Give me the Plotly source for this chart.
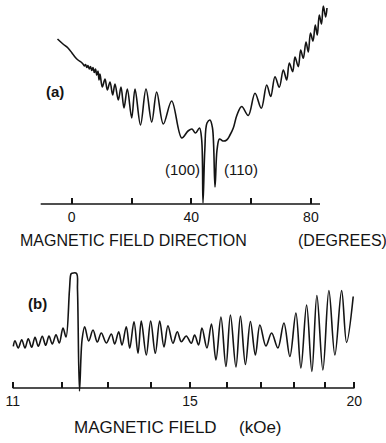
import plotly.graph_objects as go

# ---- Panel (a): signal vs magnetic field direction (degrees) ----
a_deg = [-4.75, -2.91, -1.24, 0.10, 1.10, 2.11, 3.11, 3.78, 4.21, 4.62, 5.05, 5.45, 5.89, 6.29,
         6.72, 7.12, 7.56, 7.96, 8.39, 8.80, 9.13, 9.46, 10.23, 11.14, 11.91, 12.81, 13.71, 14.48,
         15.59, 16.49, 17.49, 18.60, 20.07, 21.17, 23.01, 24.85, 26.76, 28.43, 30.64, 33.44, 36.79,
         38.90, 40.23, 41.40, 42.74, 43.48, 43.91, 44.52, 45.25, 46.25, 47.09, 47.93, 48.60, 49.43,
         50.60, 51.84, 52.94, 54.05, 55.28, 56.86, 59.06, 61.30, 63.41, 65.22, 66.56, 67.99, 69.43,
         70.77, 71.91, 72.78, 73.91, 74.68, 75.79, 76.59, 77.46, 78.36, 79.13, 79.87, 80.70, 81.47,
         82.14, 82.81, 83.54, 84.15, 84.95, 85.38]
a_sig = [165, 160, 156, 151, 147, 144, 142, 140, 138, 139.5, 136.5, 138.5, 135, 137.5,
         133.5, 136.5, 131.5, 135, 129, 133, 124, 130, 117, 125, 114, 122, 109, 120,
         104, 117, 96, 115, 86, 115, 79, 115, 82, 112, 80, 103, 66,
         73, 75, 71, 76, 64, 1, 54, 81, 84, 76, 17, 54, 65,
         63, 64, 69, 76, 89, 97.5, 88.5, 110.7, 95.7, 119, 107.5, 127.3, 116.7,
         134, 124, 141, 132.3, 147, 137.3, 154, 145.7, 162, 152, 171, 163, 179,
         169, 189, 180, 198, 187, 196]
a_tickvals = [0, 20, 40, 60, 80]
a_ticktext = ["0", "", "40", "", "80"]

# ---- Panel (b): signal vs magnetic field (kOe) ----
b_field = [11.012, 11.044, 11.108, 11.175, 11.239, 11.304, 11.372, 11.438, 11.504, 11.584,
           11.654, 11.721, 11.789, 11.866, 11.935, 12.012, 12.076, 12.149, 12.181, 12.203,
           12.299, 12.321, 12.364, 12.419, 12.477, 12.565, 12.660, 12.755, 12.845, 12.958,
           13.072, 13.150, 13.242, 13.319, 13.419, 13.500, 13.601, 13.697, 13.776, 13.897,
           14.004, 14.118, 14.227, 14.334, 14.434, 14.561, 14.672, 14.775, 14.904, 15.035,
           15.124, 15.230, 15.319, 15.454, 15.576, 15.699, 15.837, 15.976, 16.102, 16.258,
           16.386, 16.530, 16.675, 16.821, 16.954, 17.133, 17.305, 17.497, 17.682, 17.868,
           18.057, 18.215, 18.398, 18.569, 18.732, 18.930, 19.130, 19.332, 19.561, 19.731,
           19.962]
b_sig = [41.7, 47.3, 40, 48.3, 40, 49.3, 40.7, 50.7, 41.7, 51.7,
         42.7, 52, 44, 53.3, 45, 60, 51, 98, 114, 114.7,
         114.7, 98, -3, 48, 61.3, 47, 58, 46, 55, 45,
         54, 44, 56.3, 43, 61.3, 39.7, 66.3, 34.7, 67, 33,
         67, 34.7, 67, 41, 62.3, 44.7, 56.3, 46.3, 52, 44.7,
         53, 43, 60, 40, 64, 28, 71, 21.5, 73, 21,
         72, 23.5, 66.5, 33, 63, 42, 55, 40, 65, 31.5,
         75, 20, 83, 16.5, 92.5, 18, 97.5, 33, 97.5, 45.5,
         91.5]
b_tickvals = [11, 12, 13, 14, 15, 16, 17, 18, 19, 20]
b_ticktext = ["11", "", "", "", "15", "", "", "", "", "20"]

W, H = 386, 443
INK = "#141414"
FONT = "Liberation Sans, Arial, sans-serif"

def py(p):
    return 1 - p / H

def px(p):
    return p / W

fig = go.Figure()
fig.add_trace(go.Scatter(x=a_deg, y=a_sig, mode="lines", xaxis="x", yaxis="y",
                         line=dict(color=INK, width=1.6, shape="spline", smoothing=1.0),
                         showlegend=False, hoverinfo="skip"))
fig.add_trace(go.Scatter(x=b_field, y=b_sig, mode="lines", xaxis="x2", yaxis="y2",
                         line=dict(color=INK, width=1.6, shape="spline", smoothing=1.0),
                         showlegend=False, hoverinfo="skip"))

tickfont = dict(family=FONT, size=14, color=INK)
fig.update_layout(
    width=W, height=H, margin=dict(l=0, r=0, t=0, b=0),
    paper_bgcolor="white", plot_bgcolor="rgba(0,0,0,0)",
    xaxis=dict(domain=[0, 1], range=[-23.98, 105.12], anchor="free", position=py(204),
               showgrid=False, zeroline=False, showline=False,
               tickmode="array", tickvals=a_tickvals, ticktext=a_ticktext,
               ticks="inside", ticklen=6, tickwidth=1.5, tickcolor=INK,
               tickfont=tickfont, ticklabelstandoff=3),
    yaxis=dict(domain=[py(210), 1], range=[-6, 204], visible=False),
    xaxis2=dict(domain=[0, 1], type="log", range=[1.03174, 1.32512], anchor="free",
                position=py(388), showgrid=False, zeroline=False, showline=False,
                tickmode="array", tickvals=b_tickvals, ticktext=b_ticktext,
                ticks="inside", ticklen=6, tickwidth=1.5, tickcolor=INK,
                tickfont=tickfont, ticklabelstandoff=3),
    yaxis2=dict(domain=[py(395), py(260)], range=[-7, 128], visible=False),
    shapes=[
        dict(type="line", xref="paper", yref="paper", x0=px(40.7), x1=px(320),
             y0=py(204), y1=py(204), line=dict(color=INK, width=1.6)),
        dict(type="line", xref="paper", yref="paper", x0=px(12.7), x1=px(354.5),
             y0=py(388), y1=py(388), line=dict(color=INK, width=1.6)),
    ],
)

def ann(text, x, y, size=16, xanchor="center"):
    fig.add_annotation(text=text, x=px(x), y=py(y), xref="paper", yref="paper",
                       showarrow=False, xanchor=xanchor, yanchor="middle",
                       font=dict(family=FONT, size=size, color=INK))

ann("<b>(a)</b>", 55, 91, 15)
ann("(100)", 182, 169, 15)
ann("(110)", 241, 169, 15)
ann("MAGNETIC FIELD DIRECTION", 18, 240, 16, "left")
ann("(DEGREES)", 342.5, 240, 16)
ann("<b>(b)</b>", 37, 303, 15)
ann("MAGNETIC FIELD", 71.7, 427, 17, "left")
ann("(kOe)", 260.5, 427, 17)

fig.write_html("out.html")
